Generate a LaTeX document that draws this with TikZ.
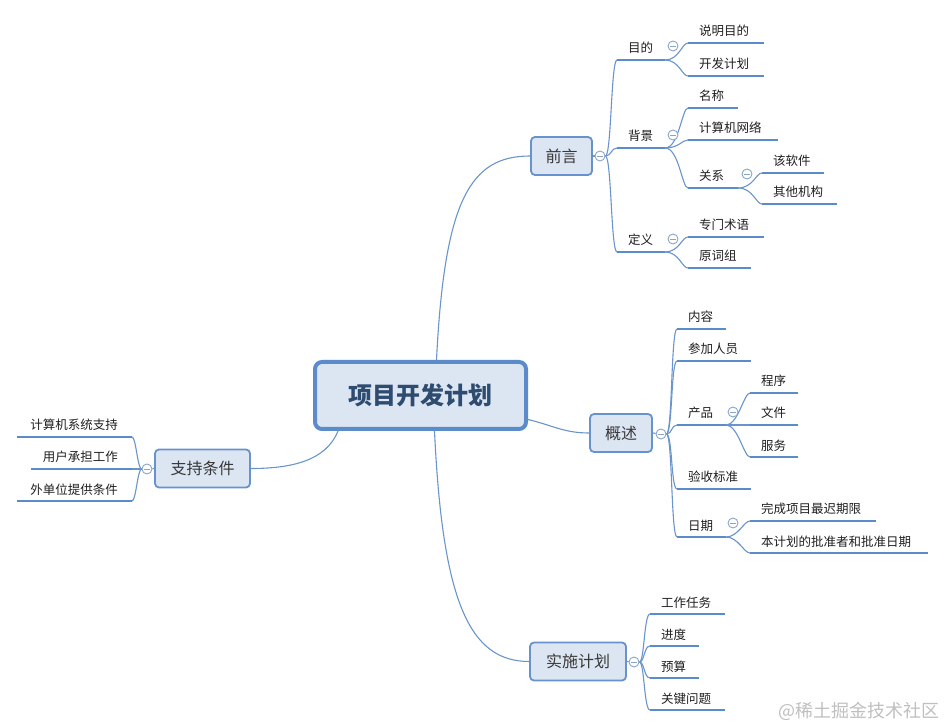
\documentclass[tikz,border=0pt]{standalone}
\usepackage{fontspec}
\setmainfont{Noto Sans CJK SC}
\usetikzlibrary{backgrounds}
\definecolor{lineblue}{HTML}{6A94CB}
\definecolor{ulblue}{HTML}{5B8BC9}
\definecolor{boxfill}{HTML}{DCE6F3}
\definecolor{boxdraw}{HTML}{6792CB}
\definecolor{maintext}{HTML}{2E4B70}
\definecolor{circdraw}{HTML}{8CA5C6}
\tikzset{
  conn/.style={draw=lineblue, line width=1.1pt},
  uline/.style={draw=ulblue, line width=2.6pt},
  leaftext/.style={font=\fontsize{12.5}{14}\selectfont, text=black!88, inner sep=0pt},
  topic/.style={draw=boxdraw, fill=boxfill, line width=1.8pt, rounded corners=4pt,
    font=\fontsize{16}{18}\selectfont, text=black!78, minimum height=38pt, inner sep=0pt},
  central/.style={draw=ulblue, fill=boxfill, line width=4pt, rounded corners=7pt,
    font=\fontsize{24}{28}\selectfont\bfseries, text=maintext, minimum width=211pt,
    minimum height=67pt, inner sep=0pt},
  collapse/.style={circle, draw=circdraw, fill=white, line width=0.9pt, minimum size=10pt, inner sep=0pt},
  brc/.style={to path={.. controls +(#1,0) and +(-6,0) .. (\tikztotarget)}},
  brcl/.style={to path={.. controls +(-4,0) and +(4,0) .. (\tikztotarget)}},
}
\newcommand\mmleaf[5]{%
  \coordinate (#1-L) at (#2,#4);
  \coordinate (#1-R) at (#3,#4);
  \draw[uline] (#1-L) -- (#1-R);
  \node[leaftext,anchor=base west] (#1) at (#2+11,#4-7) {#5};
}
\newcommand\mmleafr[5]{%
  \coordinate (#1-L) at (#2,#4);
  \coordinate (#1-R) at (#3,#4);
  \draw[uline] (#1-L) -- (#1-R);
  \node[leaftext,anchor=base east] (#1) at (#3-14,#4-7) {#5};
}
\newcommand\mmcirc[3]{%
  \node[collapse] (#1) at (#2,#3) {};
  \draw[draw=circdraw,line width=0.9pt] ([xshift=-2.8pt]#1.center) -- ([xshift=2.8pt]#1.center);
}
\begin{document}
\begin{tikzpicture}[x=1pt,y=-1pt]
\useasboundingbox (0,0) rectangle (946,727);

% central and main topics
\node[central] (main) at (420.5,395.5) {项目开发计划};
\node[topic, minimum width=61pt] (qy) at (561.5,156) {前言};
\node[topic, minimum width=62pt] (gs) at (621,433) {概述};
\node[topic, minimum width=96pt] (ss) at (578,661.5) {实施计划};
\node[topic, minimum width=95pt] (zc) at (202.5,468.5) {支持条件};

% 前言
\mmleaf{md}{617}{665}{60}{目的}
\mmleaf{smmd}{688}{764}{43}{说明目的}
\mmleaf{kfjh}{688}{764}{76}{开发计划}
\mmleaf{bj}{617}{665}{148}{背景}
\mmleaf{mc}{688}{738}{108}{名称}
\mmleaf{jsjwl}{688}{778}{140}{计算机网络}
\mmleaf{gx}{688}{738}{188}{关系}
\mmleaf{grj}{762}{824}{173}{该软件}
\mmleaf{qtjg}{762}{837}{204}{其他机构}
\mmleaf{dy}{617}{665}{252}{定义}
\mmleaf{zmsy}{688}{764}{237}{专门术语}
\mmleaf{ycz}{688}{751}{268}{原词组}

% 概述
\mmleaf{nr}{677}{726}{329}{内容}
\mmleaf{cjry}{677}{751}{361}{参加人员}
\mmleaf{cp}{677}{726}{425}{产品}
\mmleaf{cx}{750}{798}{393}{程序}
\mmleaf{wj}{750}{798}{425}{文件}
\mmleaf{fw}{750}{798}{457}{服务}
\mmleaf{ysbz}{677}{751}{489}{验收标准}
\mmleaf{rq}{677}{726}{537}{日期}
\mmleaf{wcxm}{750}{876}{521}{完成项目最迟期限}
\mmleaf{bjh}{750}{928}{553}{本计划的批准者和批准日期}

% 实施计划
\mmleaf{gzrw}{650}{725}{614}{工作任务}
\mmleaf{jd}{650}{699}{646}{进度}
\mmleaf{ys}{650}{699}{678}{预算}
\mmleaf{gjwt}{650}{725}{710}{关键问题}

% 支持条件
\mmleafr{jsjxt}{17}{132}{437}{计算机系统支持}
\mmleafr{yhcd}{31}{132}{469}{用户承担工作}
\mmleafr{wdw}{17}{132}{501}{外单位提供条件}

% collapse circles
\mmcirc{c-qy}{600}{156}
\mmcirc{c-gs}{661}{434}
\mmcirc{c-ss}{634}{662}
\mmcirc{c-zc}{147}{469}
\mmcirc{c-md}{673}{46}
\mmcirc{c-bj}{673}{135}
\mmcirc{c-dy}{673}{239}
\mmcirc{c-gx}{747}{174}
\mmcirc{c-cp}{733}{412}
\mmcirc{c-rq}{733}{523}

% watermark
\node[font=\fontsize{18}{20}\selectfont, text=black!25, anchor=east, inner sep=0pt] (wm) at (940,711) {@稀土掘金技术社区};

\begin{pgfonlayer}{background}
  % central to main topics
  \draw[conn] ([xshift=16pt]main.north) .. controls +(8,-160) and +(-60,0) .. (qy.west);
  \draw[conn] ([xshift=14pt]main.south) .. controls +(8,170) and +(-60,0) .. (ss.west);
  \draw[conn] ([yshift=-24pt]main.east) .. controls +(25,6) and +(-25,0) .. (gs.west);
  \draw[conn] ([xshift=25pt]main.south west) .. controls +(-12,30) and +(40,0) .. (zc.east);
  % topic to circle
  \draw[conn] (qy.east) -- (c-qy);
  \draw[conn] (gs.east) -- (c-gs);
  \draw[conn] (ss.east) -- (c-ss);
  \draw[conn] (zc.west) -- (c-zc);
  % 前言 branches
  \foreach \t in {md,bj,dy} \draw[conn] (c-qy.east) to[brc=6] (\t-L);
  \foreach \t in {smmd,kfjh} \draw[conn] (md-R) to[brc=14] (\t-L);
  \foreach \t in {mc,jsjwl,gx} \draw[conn] (bj-R) to[brc=14] (\t-L);
  \foreach \t in {grj,qtjg} \draw[conn] (gx-R) to[brc=15] (\t-L);
  \foreach \t in {zmsy,ycz} \draw[conn] (dy-R) to[brc=14] (\t-L);
  % 概述 branches
  \foreach \t in {nr,cjry,cp,ysbz,rq} \draw[conn] (c-gs.east) to[brc=6] (\t-L);
  \foreach \t in {cx,wj,fw} \draw[conn] (cp-R) to[brc=12] (\t-L);
  \foreach \t in {wcxm,bjh} \draw[conn] (rq-R) to[brc=12] (\t-L);
  % 实施计划 branches
  \foreach \t in {gzrw,jd,ys,gjwt} \draw[conn] (c-ss.east) to[brc=5] (\t-L);
  % 支持条件 branches
  \foreach \t in {jsjxt,yhcd,wdw} \draw[conn] (c-zc.west) to[brcl] (\t-R);
\end{pgfonlayer}
\end{tikzpicture}
\end{document}
